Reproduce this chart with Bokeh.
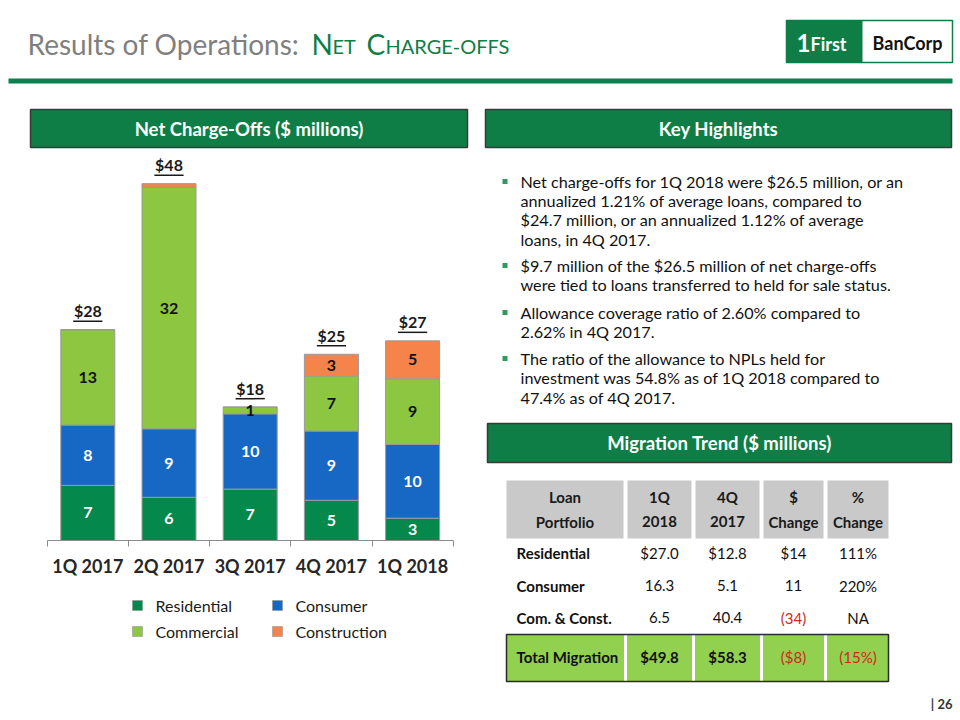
import numpy as np
from bokeh.plotting import figure
from bokeh.models import Range1d, LinearAxis, FixedTicker, ColumnDataSource
from bokeh.core.properties import value
from bokeh.embed import file_html
from bokeh.resources import INLINE

# ---------------- data ----------------
quarters = ["1Q 2017", "2Q 2017", "3Q 2017", "4Q 2017", "1Q 2018"]
residential = [7.4, 5.8, 6.9, 5.4, 3.0]
consumer = [8.1, 9.2, 10.1, 9.3, 9.9]
commercial = [12.8, 32.4, 0.9, 7.4, 8.8]
construction = [0.0, 0.5, 0.0, 2.9, 5.1]
series_names = ["Residential", "Consumer", "Commercial", "Construction"]
series_colors = ["#05884c", "#1768c4", "#8dc641", "#f6834a"]
series_label_colors = ["white", "white", "#111111", "#111111"]

highlights = [
    ["Net charge-offs for 1Q 2018 were $26.5 million, or an",
     "annualized 1.21% of average loans, compared to",
     "$24.7 million, or an annualized 1.12% of average",
     "loans, in 4Q 2017."],
    ["$9.7 million of the $26.5 million of net charge-offs",
     "were tied to loans transferred to held for sale status."],
    ["Allowance coverage ratio of 2.60% compared to",
     "2.62% in 4Q 2017."],
    ["The ratio of the allowance to NPLs held for",
     "investment  was 54.8% as of 1Q 2018 compared to",
     "47.4% as of 4Q 2017."],
]

table_head_1 = ["Loan", "1Q", "4Q", "$", "%"]
table_head_2 = ["Portfolio", "2018", "2017", "Change", "Change"]
row_labels = ["Residential", "Consumer", "Com. & Const."]
mig_1q2018 = ["$27.0", "16.3", "6.5"]
mig_4q2017 = ["$12.8", "5.1", "40.4"]
mig_dollar_change = ["$14", "11", "(34)"]
mig_pct_change = ["111%", "220%", "NA"]
total_row = ["Total Migration", "$49.8", "$58.3", "($8)", "(15%)"]

# ---------------- layout constants ----------------
FONT = "Lato"
GREEN = "#0e7d46"
W, H = 960, 720
K = 7.45          # pixels per $ million
BASE_Y = 540.0    # page y of the zero line
AX_X0 = 46.7      # page x of the left end of the category axis
STEP = 81.2       # page px per category

p = figure(width=W, height=H, x_range=Range1d(0, W), y_range=Range1d(H, 0),
           output_backend="svg", toolbar_location=None,
           x_axis_location=None, y_axis_location=None, min_border=0,
           outline_line_color=None, background_fill_color="white")
p.grid.grid_line_color = None

p.extra_y_ranges = {"val": Range1d(-(H - BASE_Y) / K, -(H - BASE_Y) / K + H / K)}
p.extra_x_ranges = {"cat": Range1d((0 - AX_X0) / STEP, (W - AX_X0) / STEP)}


def txt(x, y, s, size=15, color="#1a1a1a", bold=False, align="left", font=FONT, baseline="middle"):
    p.text(x=[x], y=[y], text=[s], text_font=value(font), text_font_size=f"{size}px",
           text_color=color, text_font_style="bold" if bold else "normal",
           text_align=align, text_baseline=baseline)


# ---------------- title & logo ----------------
txt(27, 43, "Results of Operations:", size=28, color="#7f7f7f")
txt(311, 43, "N", size=28, color=GREEN)
txt(332, 45, "ET", size=20, color=GREEN)
txt(366, 43, "C", size=28, color=GREEN)
txt(385, 45, "HARGE-OFFS", size=20, color=GREEN)
p.quad(left=[8], right=[952], top=[78], bottom=[83], fill_color="#0b8150", line_color=None)

p.quad(left=[786], right=[952], top=[20], bottom=[62], fill_color="white", line_color=GREEN, line_width=1.5)
p.quad(left=[786], right=[862], top=[20], bottom=[62], fill_color=GREEN, line_color=None)
txt(796, 42, "1", size=24, color="white", bold=True)
txt(810, 43, "First", size=18, color="white", bold=True)
txt(907, 42, "BanCorp", size=18, color="#111111", bold=True, align="center")

# ---------------- section headers ----------------
p.quad(left=[30, 485, 487], right=[467, 951, 951], top=[109, 109, 423], bottom=[147, 147, 462],
       fill_color=GREEN, line_color="#3a3a3a", line_width=1.5)
txt(248.5, 128, "Net Charge-Offs ($ millions)", size=18.5, color="white", bold=True, align="center")
txt(718, 128, "Key Highlights", size=18.5, color="white", bold=True, align="center")
txt(719, 442.5, "Migration Trend ($ millions)", size=18.5, color="white", bold=True, align="center")

# ---------------- stacked bars ----------------
xs = [i + 0.5 for i in range(len(quarters))]
src = ColumnDataSource(dict(x=xs, Residential=residential, Consumer=consumer,
                            Commercial=commercial, Construction=construction))
p.vbar_stack(series_names, x="x", width=0.665, fill_color=series_colors,
             line_color="#9a9a9a", line_width=1, source=src,
             x_range_name="cat", y_range_name="val")

series_vals = [residential, consumer, commercial, construction]
lx, ly, lt, lc = [], [], [], []
cum = np.zeros(len(quarters))
for vals, col in zip(series_vals, series_label_colors):
    v = np.array(vals, dtype=float)
    for i in range(len(quarters)):
        if round(v[i]) >= 1:
            lx.append(xs[i]); ly.append(cum[i] + v[i] / 2); lt.append(str(int(round(v[i])))); lc.append(col)
    cum = cum + v
p.text(x=lx, y=ly, text=lt, text_color=lc, text_font=value(FONT), text_font_size="16px",
       text_font_style="bold", text_align="center", text_baseline="middle",
       x_range_name="cat", y_range_name="val")

totals = cum
p.text(x=xs, y=list(totals), text=[f"${int(round(t))}" for t in totals], text_color="#1a1a1a",
       text_font=value(FONT), text_font_size="16px", text_font_style="bold",
       text_align="center", text_baseline="alphabetic", y_offset=-19,
       x_range_name="cat", y_range_name="val")
uy = list(totals + 8.5 / K)
p.segment(x0=[x - 0.18 for x in xs], x1=[x + 0.18 for x in xs], y0=uy, y1=uy,
          line_color="#1a1a1a", line_width=1.5, x_range_name="cat", y_range_name="val")

ax = LinearAxis(x_range_name="cat", y_range_name="val", fixed_location=0,
                ticker=FixedTicker(ticks=xs, minor_ticks=list(range(len(quarters) + 1))),
                major_label_overrides={x: q for x, q in zip(xs, quarters)},
                bounds=(0, len(quarters)))
ax.axis_line_color = "#8c8c8c"
ax.major_tick_line_color = None
ax.minor_tick_line_color = "#8c8c8c"
ax.minor_tick_out = 6
ax.minor_tick_in = 0
ax.major_label_text_font = FONT
ax.major_label_text_font_size = "18px"
ax.major_label_text_font_style = "bold"
ax.major_label_text_color = "#262626"
ax.major_label_standoff = 8
p.add_layout(ax, "below")

# legend
leg_x = [137, 277, 137, 277]
leg_y = [605, 605, 631, 631]
leg_order = [0, 1, 2, 3]
p.scatter(x=leg_x, y=leg_y, marker="square", size=10,
          fill_color=[series_colors[i] for i in leg_order], line_color="#8a8a8a", line_width=0.5)
p.text(x=[x + 18 for x in leg_x], y=leg_y, text=[series_names[i] for i in leg_order],
       text_font=value(FONT), text_font_size="16px", text_color="#1a1a1a",
       text_baseline="middle")

# ---------------- key highlights ----------------
line_ys = [[181, 200, 219, 239], [265, 284], [312, 331], [358, 377, 397]]
for para, ys in zip(highlights, line_ys):
    p.scatter(x=[504.5], y=[ys[0]], marker="square", size=5, fill_color="#2f9a5c", line_color=None)
    p.text(x=[520] * len(para), y=ys, text=para, text_font=value(FONT), text_font_size="16.2px",
           text_color="#111111", text_baseline="middle")

# ---------------- migration table ----------------
col_l = [506, 627, 695, 763, 827]
col_r = [623, 691, 759, 823, 888]
col_c = [(a + b) / 2 for a, b in zip(col_l, col_r)]
p.quad(left=col_l, right=col_r, top=[480] * 5, bottom=[538] * 5, fill_color="#c9c9c9", line_color=None)
p.text(x=col_c, y=[496] * 5, text=table_head_1, text_font=value(FONT), text_font_size="15px",
       text_font_style="bold", text_color="#1a1a1a", text_align="center", text_baseline="middle")
p.text(x=col_c, y=[521] * 5, text=table_head_2, text_font=value(FONT), text_font_size="15px",
       text_font_style="bold", text_color="#1a1a1a", text_align="center", text_baseline="middle")

row_y = [552, 585, 617]
p.text(x=[516] * 3, y=row_y, text=row_labels, text_font=value(FONT), text_font_size="15px",
       text_font_style="bold", text_color="#111111", text_baseline="middle")
RED = "#cc2a1c"
for ci, colvals in zip(range(1, 5), [mig_1q2018, mig_4q2017, mig_dollar_change, mig_pct_change]):
    colors = [RED if s.startswith("(") else "#111111" for s in colvals]
    p.text(x=[col_c[ci]] * 3, y=row_y, text=colvals, text_font=value(FONT), text_font_size="15px",
           text_color=colors, text_align="center", text_baseline="middle")

p.quad(left=[506], right=[888], top=[634], bottom=[681], fill_color="#92d050",
       line_color="#2b2b2b", line_width=1.5)
for gx in [625, 693, 761, 825]:
    p.quad(left=[gx - 1.5], right=[gx + 1.5], top=[635], bottom=[680], fill_color="white", line_color=None)
txt(516, 656, total_row[0], size=15, color="#111111", bold=True)
for ci in range(1, 5):
    s = total_row[ci]
    neg = s.startswith("(")
    txt(col_c[ci], 656, s, size=15, color=RED if neg else "#111111", bold=not neg, align="center")

# page number
txt(952, 703, "| 26", size=13, color="#333333", bold=True, align="right")

open("out.html", "w").write(file_html(p, INLINE))
